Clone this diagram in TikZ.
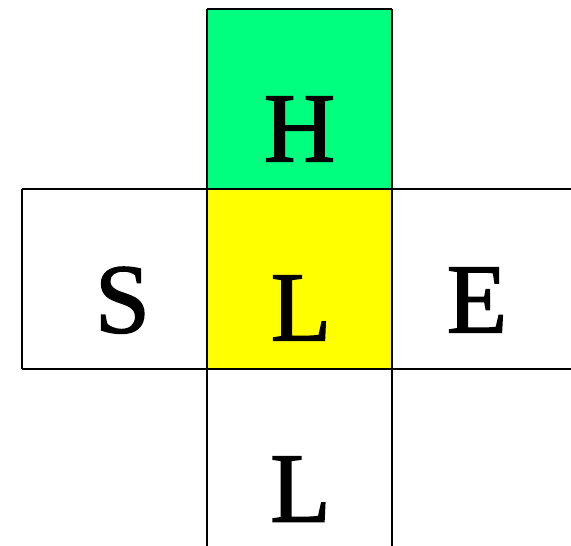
\documentclass[tikz,border=0pt]{standalone}
\usepackage{fontspec}
\setmainfont{Liberation Serif}
\newfontfamily\letterfont[FakeBold=1.5]{Liberation Serif}
\definecolor{springgreen}{RGB}{0,255,127}
\definecolor{yel}{RGB}{255,255,0}
\begin{document}
\begin{tikzpicture}[x=1bp,y=-1bp,
  gridline/.style={line width=2bp, black},
  letter/.style={anchor=base, inner sep=0pt, font=\letterfont\fontsize{99bp}{100bp}\selectfont}]
\useasboundingbox (0,0) rectangle (571,546);
% fills
\fill[springgreen] (207,9) rectangle (392,189);
\fill[yel] (207,189) rectangle (392,369);
% lines
\draw[gridline] (22,189) -- (571,189);
\draw[gridline] (22,369) -- (571,369);
\draw[gridline] (22,189) -- (22,369);
\draw[gridline] (207,9) -- (392,9);
\draw[gridline] (207,9) -- (207,546);
\draw[gridline] (392,9) -- (392,546);
% letters
\node[letter] (h) at (299.5,161.5) {H};
\node[letter] (s) at (122.5,332.5) {S};
\node[letter] (lm) at (301,340.5) {L};
\node[letter] (e) at (477,332.5) {E};
\node[letter] (lb) at (300.5,521.5) {L};
\end{tikzpicture}
\end{document}
